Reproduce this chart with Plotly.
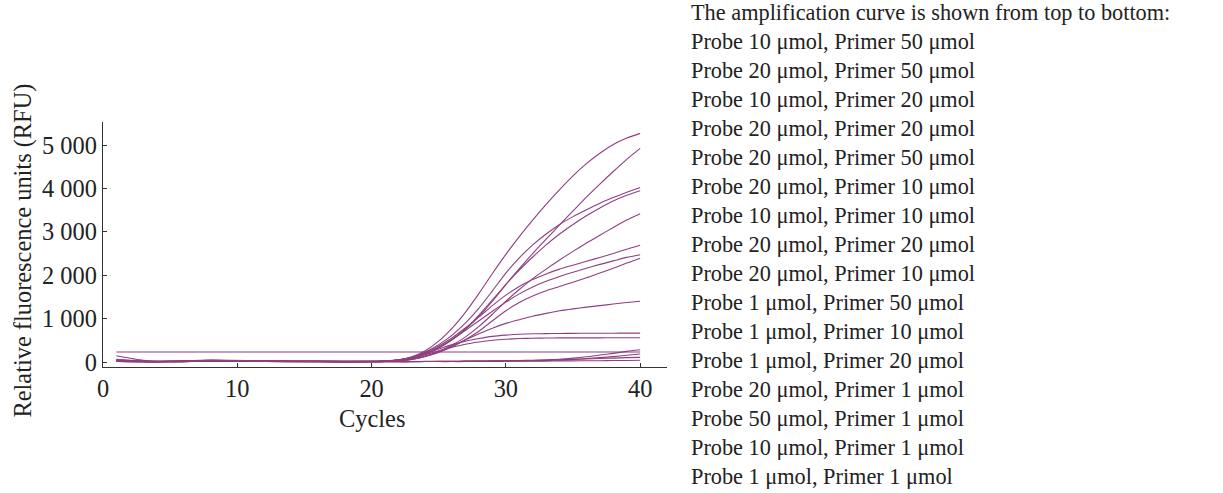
import plotly.graph_objects as go

# Cycles at which values were read
CYCLES = [1, 3, 5, 8, 12, 16, 20] + list(range(21, 41))

# Curve values (RFU), ordered top to bottom at cycle 40
C1 = [30, 10, 20, 35, 20, 15, 20, 25, 50, 120, 260, 480, 780, 1150, 1580, 2040, 2480, 2890, 3270, 3630, 3970, 4290, 4570, 4810, 5010, 5160, 5268]
C2 = [20, 15, 10, 30, 15, 10, 10, 15, 35, 80, 180, 330, 520, 760, 1050, 1400, 1780, 2150, 2500, 2830, 3160, 3480, 3800, 4100, 4390, 4670, 4923]
C3 = [40, 20, 15, 40, 25, 20, 15, 20, 45, 110, 230, 400, 620, 900, 1240, 1640, 2050, 2400, 2700, 2950, 3170, 3350, 3510, 3660, 3790, 3910, 4022]
C4 = [25, 5, 10, 30, 10, 15, 10, 15, 35, 85, 180, 320, 510, 750, 1080, 1430, 1790, 2120, 2420, 2700, 2950, 3170, 3370, 3550, 3710, 3840, 3945]
C5 = [50, 15, 5, 25, 20, 10, 5, 10, 25, 60, 130, 240, 390, 580, 820, 1100, 1400, 1670, 1920, 2140, 2350, 2550, 2740, 2920, 3100, 3270, 3417]
C6 = [35, 10, 20, 45, 30, 20, 15, 20, 45, 110, 220, 370, 560, 790, 1040, 1300, 1540, 1740, 1900, 2030, 2140, 2230, 2320, 2410, 2500, 2600, 2691]
C7 = [20, 5, 15, 35, 15, 15, 15, 20, 45, 100, 200, 340, 520, 730, 950, 1170, 1380, 1570, 1730, 1860, 1970, 2070, 2160, 2250, 2330, 2410, 2470]
C8 = [45, 20, 10, 30, 20, 5, 5, 10, 25, 60, 125, 220, 350, 520, 710, 950, 1180, 1370, 1520, 1640, 1740, 1840, 1940, 2050, 2160, 2280, 2393]
C9 = [30, 10, 10, 25, 25, 10, 5, 15, 30, 70, 140, 240, 370, 510, 650, 780, 890, 975, 1055, 1120, 1180, 1225, 1265, 1300, 1335, 1370, 1399]
C10 = [15, 5, 15, 40, 20, 15, 10, 20, 50, 110, 200, 300, 400, 480, 540, 590, 620, 640, 650, 655, 658, 660, 662, 663, 664, 665, 665]
C11 = [25, 10, 5, 30, 15, 10, 10, 15, 40, 90, 170, 260, 340, 410, 460, 500, 525, 540, 548, 552, 555, 556, 557, 557, 558, 558, 558]
C12 = [230] * 27
C13 = [10, 5, 5, 20, 10, 5, 5, 5, 5, 10, 10, 15, 15, 20, 20, 25, 30, 35, 40, 50, 65, 90, 120, 160, 200, 245, 282]
C14 = [15, 5, 5, 15, 10, 5, 5, 5, 5, 5, 10, 10, 10, 15, 15, 20, 20, 25, 30, 35, 45, 60, 80, 100, 125, 155, 183]
C15 = [145, 40, 10, 20, 15, 10, 10, 10, 10, 10, 15, 15, 15, 20, 20, 25, 25, 30, 35, 40, 50, 60, 70, 80, 90, 100, 107]
C16 = [60, 15, 5, 25, 10, 5, 0, 5, 5, 5, 10, 10, 10, 10, 15, 15, 15, 20, 20, 20, 25, 25, 30, 30, 35, 35, 40]

SERIES = [C1, C2, C3, C4, C5, C6, C7, C8, C9, C10, C11, C12, C13, C14, C15, C16]

LEGEND_TITLE = "The amplification curve is shown from top to bottom:"
LEGEND_LINES = [
    "Probe 10 μmol, Primer 50 μmol",
    "Probe 20 μmol, Primer 50 μmol",
    "Probe 10 μmol, Primer 20 μmol",
    "Probe 20 μmol, Primer 20 μmol",
    "Probe 20 μmol, Primer 50 μmol",
    "Probe 20 μmol, Primer 10 μmol",
    "Probe 10 μmol, Primer 10 μmol",
    "Probe 20 μmol, Primer 20 μmol",
    "Probe 20 μmol, Primer 10 μmol",
    "Probe 1 μmol, Primer 50 μmol",
    "Probe 1 μmol, Primer 10 μmol",
    "Probe 1 μmol, Primer 20 μmol",
    "Probe 20 μmol, Primer 1 μmol",
    "Probe 50 μmol, Primer 1 μmol",
    "Probe 10 μmol, Primer 1 μmol",
    "Probe 1 μmol, Primer 1 μmol",
]

Y_TICKS = [0, 1000, 2000, 3000, 4000, 5000]
Y_TICKTEXT = ["0", "1 000", "2 000", "3 000", "4 000", "5 000"]
X_TICKS = [0, 10, 20, 30, 40]

FONT = "Liberation Serif, Times New Roman, serif"
LINE_COLOR = "#8e3f80"
AXIS_FONT = 24.4
LEGEND_FONT = 22.3

fig = go.Figure()
for name, vals in zip(LEGEND_LINES, SERIES):
    fig.add_trace(go.Scatter(
        x=CYCLES, y=vals, mode="lines", name=name,
        line=dict(color=LINE_COLOR, width=1.1, shape="spline", smoothing=0.6),
        showlegend=False,
    ))

L, R, T, B = 103, 556, 122, 126
W, H = 1223, 493
pw, ph = W - L - R, H - T - B

def px_x(px):
    return (px - L) / pw

def px_y(py):
    return (H - B - py) / ph

fig.update_layout(
    width=W, height=H,
    margin=dict(l=L, r=R, t=T, b=B, pad=0),
    paper_bgcolor="white", plot_bgcolor="white",
    font=dict(family=FONT, size=AXIS_FONT, color="#222"),
    xaxis=dict(
        range=[0, 42], tickvals=X_TICKS, ticks="inside", ticklen=4,
        tickcolor="#333", showline=True, linecolor="#333", linewidth=1.3,
        showgrid=False, zeroline=False,
        tickfont=dict(size=AXIS_FONT, family=FONT, color="#222"),
    ),
    yaxis=dict(
        range=[-115, 5530], tickvals=Y_TICKS, ticktext=Y_TICKTEXT, ticks="inside",
        ticklen=4, tickcolor="#333", showline=True, linecolor="#333", linewidth=1.3,
        showgrid=False, zeroline=False,
        tickfont=dict(size=AXIS_FONT, family=FONT, color="#222"),
    ),
    annotations=[
        dict(text="Relative fluorescence units (RFU)", textangle=-90,
             xref="paper", yref="paper", x=px_x(22.5), y=px_y(251),
             xanchor="center", yanchor="middle", showarrow=False,
             font=dict(size=AXIS_FONT, family=FONT, color="#222")),
        dict(text="Cycles", xref="paper", yref="paper", x=px_x(372), y=px_y(419),
             xanchor="center", yanchor="middle", showarrow=False,
             font=dict(size=AXIS_FONT, family=FONT, color="#222")),
        dict(text="<br>".join([LEGEND_TITLE] + LEGEND_LINES),
             xref="paper", yref="paper", x=px_x(689), y=px_y(-2.5),
             xanchor="left", yanchor="top", align="left", showarrow=False,
             font=dict(size=LEGEND_FONT, family=FONT, color="#222")),
    ],
)

fig.write_html("out.html", config={"displayModeBar": False},
               post_script="document.body.style.margin='0';")
